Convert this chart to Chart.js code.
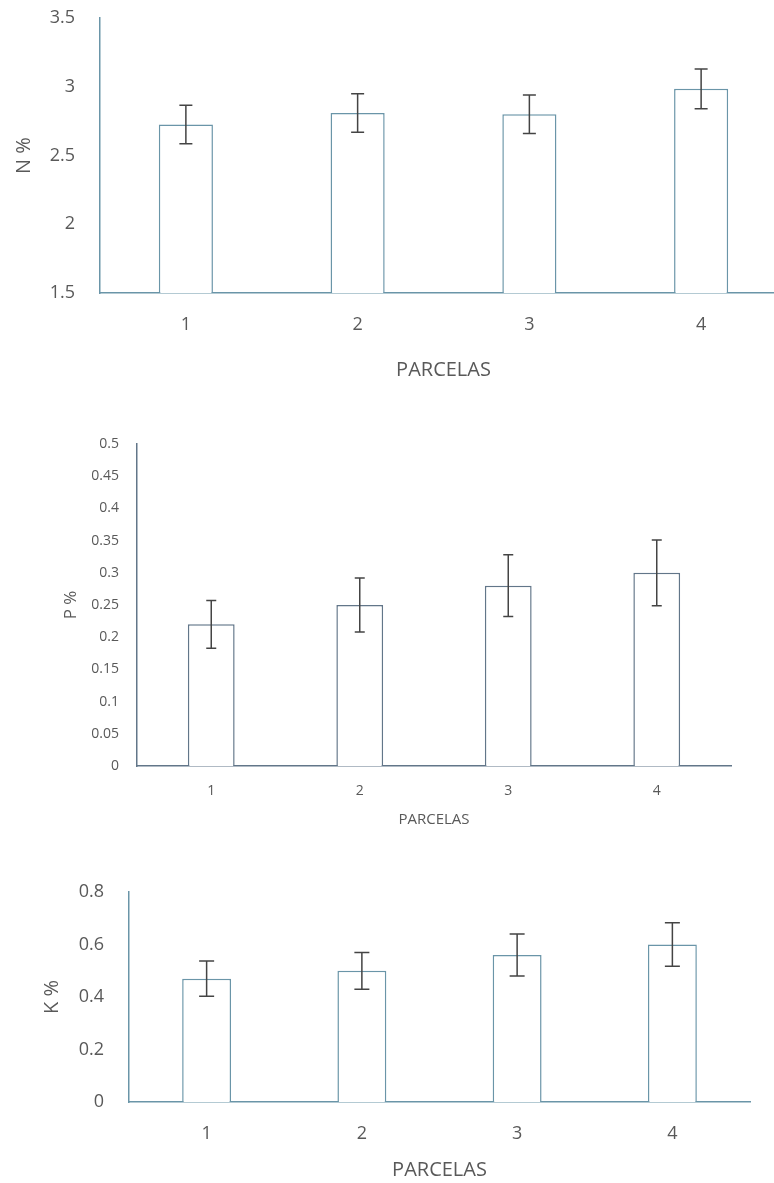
<!DOCTYPE html>
<html>
<head>
<meta charset="utf-8">
<script src="https://cdn.jsdelivr.net/npm/chart.js@4/dist/chart.umd.min.js"></script>
<style>
  html, body { margin: 0; padding: 0; background: #fff; overflow: hidden; width: 774px; height: 1183px; }
  canvas { position: absolute; left: 0; }
</style>
</head>
<body>
<canvas id="chartN" width="790" height="386" style="top:0px"></canvas>
<canvas id="chartP" width="774" height="413" style="top:420px"></canvas>
<canvas id="chartK" width="774" height="313" style="top:870px"></canvas>
<script>
// Plots (parcelas) shared by the three panels
const parcelas = ['1', '2', '3', '4'];

// Nitrogen content (%) with standard deviation
const nValues = [2.725, 2.81, 2.80, 2.985];
const nErrors = [0.14, 0.14, 0.14, 0.145];
const nTicks  = [1.5, 2, 2.5, 3, 3.5];

// Phosphorus content (%) with standard deviation
const pValues = [0.22, 0.25, 0.28, 0.30];
const pErrors = [0.037, 0.042, 0.048, 0.051];
const pTicks  = [0, 0.05, 0.1, 0.15, 0.2, 0.25, 0.3, 0.35, 0.4, 0.45, 0.5];

// Potassium content (%) with standard deviation
const kValues = [0.47, 0.50, 0.56, 0.60];
const kErrors = [0.067, 0.07, 0.08, 0.083];
const kTicks  = [0, 0.2, 0.4, 0.6, 0.8];

const TEXT = '#595959';

// Draws vertical error bars with caps on top of each bar
const errorBarPlugin = {
  id: 'errorBars',
  afterDatasetsDraw(chart, args, opts) {
    const ctx = chart.ctx;
    const yScale = chart.scales.y;
    chart.data.datasets.forEach((ds, i) => {
      const meta = chart.getDatasetMeta(i);
      meta.data.forEach((el, j) => {
        const v = ds.data[j], e = ds.errors[j];
        const yTop = yScale.getPixelForValue(v + e);
        const yBot = yScale.getPixelForValue(v - e);
        const half = opts.capWidth / 2;
        ctx.save();
        ctx.strokeStyle = opts.color;
        ctx.lineWidth = opts.lineWidth;
        ctx.beginPath();
        ctx.moveTo(el.x, yTop); ctx.lineTo(el.x, yBot);
        ctx.moveTo(el.x - half, yTop); ctx.lineTo(el.x + half, yTop);
        ctx.moveTo(el.x - half, yBot); ctx.lineTo(el.x + half, yBot);
        ctx.stroke();
        ctx.restore();
      });
    });
  }
};

function panel(id, s) {
  const ctx = document.getElementById(id);
  return new Chart(ctx, {
    type: 'bar',
    data: {
      labels: parcelas,
      datasets: [{
        data: s.values,
        errors: s.errors,
        base: s.ticks[0],
        backgroundColor: '#ffffff',
        borderColor: s.color,
        borderWidth: 1.5,
        categoryPercentage: 1.0,
        barPercentage: 0.315
      }]
    },
    plugins: [errorBarPlugin],
    options: {
      responsive: false,
      animation: false,
      devicePixelRatio: 1,
      layout: { padding: s.padding },
      plugins: {
        legend: { display: false },
        tooltip: { enabled: false },
        errorBars: { color: '#444444', lineWidth: 1.5, capWidth: s.cap }
      },
      scales: {
        x: {
          grid: { display: false, drawTicks: false },
          border: { display: true, color: s.color, width: 1.5 },
          ticks: { color: TEXT, padding: s.xTickPad, font: { family: 'Open Sans', size: s.tickSize } },
          title: {
            display: true, text: 'PARCELAS', color: TEXT,
            font: { family: 'Open Sans', size: s.xTitleSize },
            padding: { top: 0, bottom: s.xTitleBottom }
          },
          afterFit(scale) {
            scale.height = s.xHeight;
            scale.paddingLeft = 0; scale.paddingRight = 0;
          }
        },
        y: {
          min: s.ticks[0],
          max: s.ticks[s.ticks.length - 1],
          grid: { display: false, drawTicks: false },
          border: { display: true, color: s.color, width: 1.5 },
          afterBuildTicks(scale) { scale.ticks = s.ticks.map(v => ({ value: v })); },
          ticks: {
            color: TEXT, padding: s.yTickPad,
            font: { family: 'Open Sans', size: s.tickSize },
            callback: v => String(v)
          },
          title: {
            display: true, text: s.yTitle, color: TEXT,
            font: { family: 'Open Sans', size: s.yTitleSize },
            padding: { top: s.yTitlePad, bottom: 0 }
          },
          afterFit(scale) {
            scale.width = s.yWidth;
            scale.paddingTop = 0; scale.paddingBottom = 0;
          }
        }
      }
    }
  });
}

panel('chartN', {
  values: nValues, errors: nErrors, ticks: nTicks, yTitle: 'N %',
  color: '#6a95a8', cap: 13,
  padding: { top: 18, right: 3, left: 0, bottom: 0 },
  yWidth: 100, xHeight: 93,
  tickSize: 18, xTickPad: 21, yTickPad: 25,
  xTitleSize: 20, xTitleBottom: 4,
  yTitleSize: 20, yTitlePad: 12
});

panel('chartP', {
  values: pValues, errors: pErrors, ticks: pTicks, yTitle: 'P %',
  color: '#627689', cap: 10,
  padding: { top: 24, right: 43, left: 0, bottom: 0 },
  yWidth: 137, xHeight: 67,
  tickSize: 14, xTickPad: 17, yTickPad: 18,
  xTitleSize: 15, xTitleBottom: 4,
  yTitleSize: 17, yTitlePad: 61
});

panel('chartK', {
  values: kValues, errors: kErrors, ticks: kTicks, yTitle: 'K %',
  color: '#6a95a8', cap: 15,
  padding: { top: 22, right: 24, left: 0, bottom: 0 },
  yWidth: 129, xHeight: 81,
  tickSize: 18, xTickPad: 21, yTickPad: 25,
  xTitleSize: 20, xTitleBottom: 1,
  yTitleSize: 20, yTitlePad: 40
});
</script>
</body>
</html>
